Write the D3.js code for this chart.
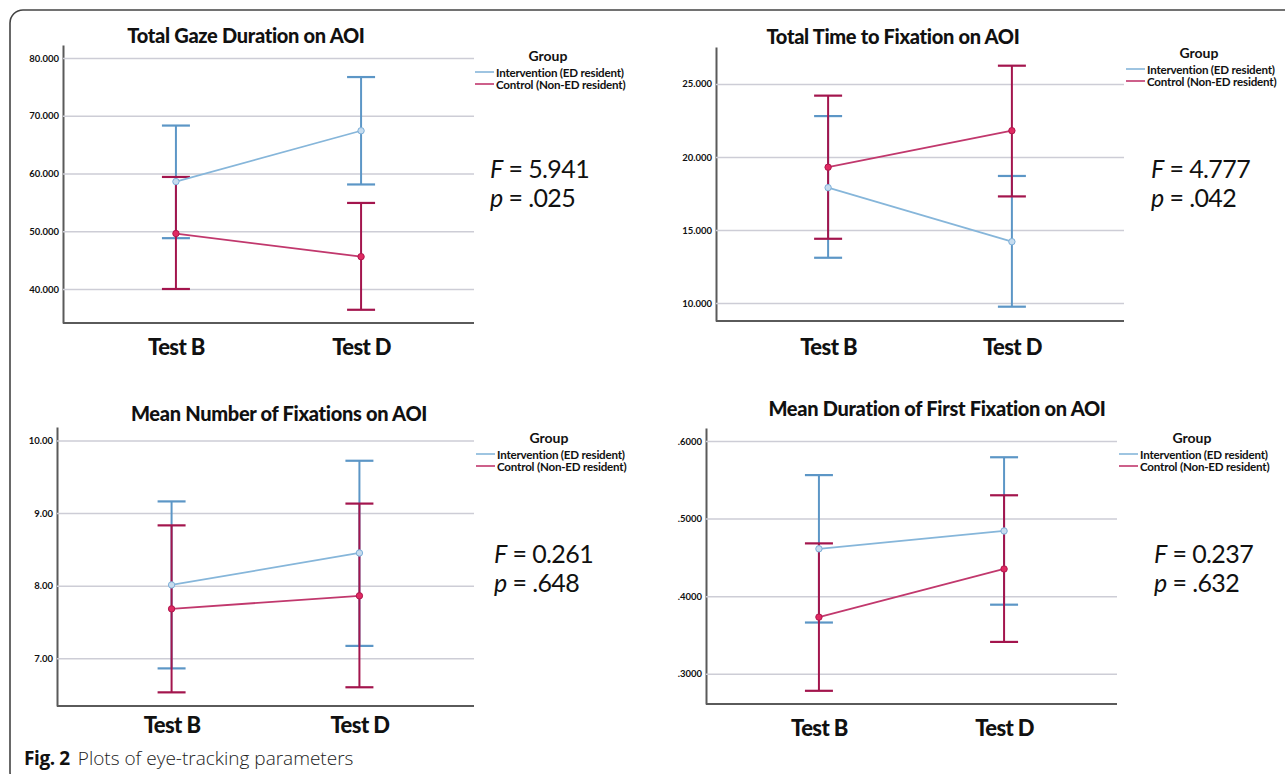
<!DOCTYPE html>
<html>
<head>
<meta charset="utf-8">
<script src="https://cdn.jsdelivr.net/npm/d3@7"></script>
<style>
    body { margin: 0; background: #fff; }
    svg { display: block; }
    text { font-family: Lato, "Open Sans", sans-serif; fill: #111; }
</style>
</head>
<body>
<svg id="chart" width="1285" height="774"></svg>
<script>
// values
const tests = ["Test B", "Test D"];
const groups = ["Intervention (ED resident)", "Control (Non-ED resident)"];
const titles = [
    "Total Gaze Duration on AOI",
    "Total Time to Fixation on AOI",
    "Mean Number of Fixations on AOI",
    "Mean Duration of First Fixation on AOI"
];
const yTicks = [[40, 50, 60, 70, 80], [10, 15, 20, 25], [7, 8, 9, 10], [0.3, 0.4, 0.5, 0.6]];

const interventionMean = [[58.6, 67.4], [17.9, 14.2], [8.01, 8.45], [0.461, 0.484]];
const interventionLow  = [[48.8, 58.1], [13.1, 9.75], [6.86, 7.17], [0.366, 0.389]];
const interventionHigh = [[68.3, 76.7], [22.8, 18.7], [9.16, 9.72], [0.556, 0.579]];
const controlMean = [[49.6, 45.6], [19.3, 21.8], [7.68, 7.86], [0.373, 0.435]];
const controlLow  = [[40.0, 36.4], [14.4, 17.3], [6.53, 6.60], [0.278, 0.341]];
const controlHigh = [[59.4, 54.9], [24.2, 26.25], [8.83, 9.13], [0.468, 0.530]];

const fValues = ["5.941", "4.777", "0.261", "0.237"];
const pValues = [".025", ".042", ".648", ".632"];

const fmt3 = d3.format(".3f"), fmt2 = d3.format(".2f"), fmt4 = d3.format(".4f");
const tickFormats = [fmt3, fmt3, fmt2, d => fmt4(d).replace(/^0/, "")];

// panel placement
const layout = [
    { left: 63, right: 474, top: 45, bottom: 323, domain: [34.11, 82.25], titleX: 246, titleY: 35, legX: 475, legY: 55, statX: 490, statY: 168, labelY: 347 },
    { left: 716, right: 1124, top: 47, bottom: 321, domain: [8.77, 27.53], titleX: 893, titleY: 36, legX: 1126, legY: 52, statX: 1151, statY: 168, labelY: 347 },
    { left: 57, right: 474, top: 427, bottom: 706, domain: [6.342, 10.185], titleX: 279, titleY: 413, legX: 476, legY: 437, statX: 494, statY: 553, labelY: 725 },
    { left: 706, right: 1117, top: 428, bottom: 704, domain: [0.261, 0.6167], titleX: 937, titleY: 408, legX: 1119, legY: 437, statX: 1154, statY: 553, labelY: 728 }
];

const colors = {
    int: { line: "#86b6da", bar: "#5c96c6", fill: "#c6dcef", stroke: "#7dafd8" },
    ctl: { line: "#c1386d", bar: "#a3154d", fill: "#e02a62", stroke: "#b0174e" }
};

const svg = d3.select("#chart");

// figure frame
svg.append("rect")
    .attr("x", 10).attr("y", 10)
    .attr("width", 1300).attr("height", 775)
    .attr("rx", 13)
    .attr("fill", "none")
    .attr("stroke", "#444")
    .attr("stroke-width", 1.6);

layout.forEach((L, i) => {
    const g = svg.append("g");
    const x = d3.scalePoint().domain(tests).range([L.left, L.right]).padding(0.61);
    const y = d3.scaleLinear().domain(L.domain).range([L.bottom, L.top]);

    // y axis + gridlines
    const yAxis = g.append("g")
        .attr("transform", `translate(${L.left},0)`)
        .call(d3.axisLeft(y).tickValues(yTicks[i]).tickFormat(tickFormats[i])
            .tickSize(-(L.right - L.left)).tickSizeOuter(0).tickPadding(4));
    yAxis.select(".domain").attr("stroke", "#5a5a5a").attr("stroke-width", 2);
    yAxis.selectAll(".tick line").attr("stroke", "#cdcdd6").attr("stroke-width", 1.5);
    yAxis.selectAll(".tick text")
        .style("font-size", "9.5px").style("font-weight", 700).attr("fill", "#222");

    // x axis
    g.append("line")
        .attr("x1", L.left).attr("x2", L.right)
        .attr("y1", L.bottom).attr("y2", L.bottom)
        .attr("stroke", "#5a5a5a").attr("stroke-width", 2);
    const xAxis = g.append("g")
        .attr("transform", `translate(0,${L.labelY})`)
        .call(d3.axisBottom(x).tickSize(0).tickPadding(0));
    xAxis.select(".domain").remove();
    xAxis.selectAll(".tick text")
        .attr("dy", "0.35em").attr("y", 0)
        .style("font-size", "22px").style("font-weight", 900)
        .style("letter-spacing", "-0.6px").attr("fill", "#111");

    // title
    g.append("text")
        .attr("x", L.titleX).attr("y", L.titleY)
        .attr("text-anchor", "middle").attr("dominant-baseline", "central")
        .style("font-size", "20px").style("font-weight", 900)
        .style("letter-spacing", "-0.3px")
        .text(titles[i]);

    const series = [
        { key: "int", mean: interventionMean[i], low: interventionLow[i], high: interventionHigh[i] },
        { key: "ctl", mean: controlMean[i], low: controlLow[i], high: controlHigh[i] }
    ];

    // error bars
    series.forEach(s => {
        const c = colors[s.key];
        const bars = g.append("g");
        tests.forEach((t, j) => {
            const cx = x(t);
            bars.append("line")
                .attr("x1", cx).attr("x2", cx)
                .attr("y1", y(s.low[j])).attr("y2", y(s.high[j]))
                .attr("stroke", c.bar).attr("stroke-width", 2);
            [s.low[j], s.high[j]].forEach(v => {
                bars.append("line")
                    .attr("x1", cx - 14).attr("x2", cx + 14)
                    .attr("y1", y(v)).attr("y2", y(v))
                    .attr("stroke", c.bar).attr("stroke-width", 2.2);
            });
        });
    });

    // mean lines and points
    const line = d3.line().x((d, j) => x(tests[j])).y(d => y(d));
    series.forEach(s => {
        const c = colors[s.key];
        g.append("path")
            .attr("d", line(s.mean))
            .attr("fill", "none")
            .attr("stroke", c.line)
            .attr("stroke-width", 1.8);
        g.selectAll(null).data(s.mean).enter().append("circle")
            .attr("cx", (d, j) => x(tests[j]))
            .attr("cy", d => y(d))
            .attr("r", 3.2)
            .attr("fill", c.fill)
            .attr("stroke", c.stroke)
            .attr("stroke-width", 1);
    });

    // legend
    const leg = g.append("g");
    leg.append("text")
        .attr("x", L.legX + 73).attr("y", L.legY)
        .attr("text-anchor", "middle").attr("dominant-baseline", "central")
        .style("font-size", "14px").style("font-weight", 700)
        .text("Group");
    groups.forEach((name, k) => {
        const ly = L.legY + 17 + k * 12;
        const c = k === 0 ? colors.int : colors.ctl;
        leg.append("line")
            .attr("x1", L.legX).attr("x2", L.legX + 19)
            .attr("y1", ly).attr("y2", ly)
            .attr("stroke", c.line).attr("stroke-width", 1.6);
        leg.append("text")
            .attr("x", L.legX + 21).attr("y", ly)
            .attr("dominant-baseline", "central")
            .style("font-size", "11.6px").style("font-weight", 700)
            .style("letter-spacing", "-0.2px")
            .text(name);
    });

    // statistics
    const fText = g.append("text")
        .attr("x", L.statX).attr("y", L.statY)
        .attr("dominant-baseline", "central")
        .style("font-size", "25px").style("letter-spacing", "-0.6px");
    fText.append("tspan").style("font-style", "italic").text("F");
    fText.append("tspan").text(" = " + fValues[i]);
    const pText = g.append("text")
        .attr("x", L.statX).attr("y", L.statY + 29)
        .attr("dominant-baseline", "central")
        .style("font-size", "25px").style("letter-spacing", "-0.6px");
    pText.append("tspan").style("font-style", "italic").text("p");
    pText.append("tspan").text(" = " + pValues[i]);
});

// caption
const cap = svg.append("text")
    .attr("x", 24).attr("y", 758)
    .attr("dominant-baseline", "central")
    .style("font-family", "'Open Sans', sans-serif")
    .style("font-size", "19px");
cap.append("tspan").style("font-weight", 700).style("letter-spacing", "-0.4px").text("Fig. 2");
cap.append("tspan").attr("dx", 8).attr("fill", "#222").style("font-weight", 300)
    .text("Plots of eye-tracking parameters");
</script>
</body>
</html>
